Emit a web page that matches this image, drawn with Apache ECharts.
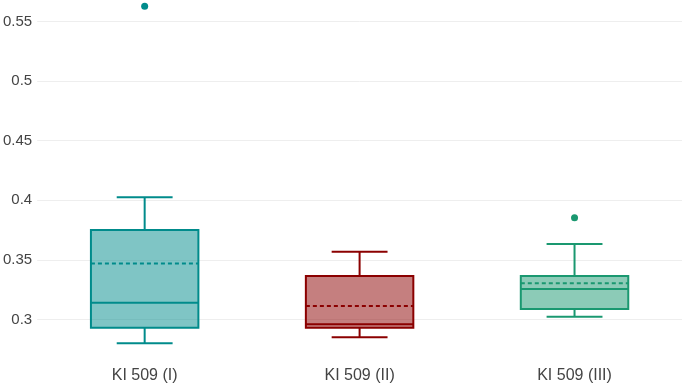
<!DOCTYPE html>
<html>
<head>
<meta charset="utf-8">
<script src="https://cdn.jsdelivr.net/npm/echarts@6/dist/echarts.min.js"></script>
<style>
  html, body { margin: 0; padding: 0; background: #fff; }
  #boxChart { width: 685px; height: 387px; }
</style>
</head>
<body>
<div id="boxChart"></div>
<script>
  // categories and box stats
  const categories = ['KI 509 (I)', 'KI 509 (II)', 'KI 509 (III)'];
  const lowerWhisker = [0.2800, 0.2851, 0.3022];
  const q1Values = [0.2930, 0.2930, 0.3087];
  const medianValues = [0.3140, 0.2960, 0.3255];
  const q3Values = [0.3750, 0.3364, 0.3364];
  const upperWhisker = [0.4026, 0.3568, 0.3633];
  const meanValues = [0.3470, 0.3112, 0.3303];
  const outlierCat = [0, 2];
  const outlierValues = [0.5628, 0.3854];
  const yTicks = [0.3, 0.35, 0.4, 0.45, 0.5, 0.55];

  const strokeColors = ['#008b8b', '#8b0000', '#1a9870'];
  const fillColors = ['rgba(0,139,139,0.5)', 'rgba(139,0,0,0.5)', 'rgba(26,152,112,0.5)'];

  let boxData = categories.map((c, i) => [i, lowerWhisker[i], q1Values[i], medianValues[i], q3Values[i], upperWhisker[i], meanValues[i]]);
  let outlierData = outlierCat.map((c, i) => ({
    value: [c, outlierValues[i]],
    itemStyle: { color: strokeColors[c], opacity: 1 }
  }));

  function renderBox(params, api) {
    let idx = api.value(0);
    let band = api.size([1, 0])[0];
    let halfBox = band * 0.25;
    let halfCap = band * 0.13;
    let x = api.coord([idx, 0])[0];
    let yLow = api.coord([idx, api.value(1)])[1];
    let yQ1 = api.coord([idx, api.value(2)])[1];
    let yMed = api.coord([idx, api.value(3)])[1];
    let yQ3 = api.coord([idx, api.value(4)])[1];
    let yHigh = api.coord([idx, api.value(5)])[1];
    let yMean = api.coord([idx, api.value(6)])[1];
    let stroke = strokeColors[idx];
    let lineStyle = { stroke: stroke, lineWidth: 2, fill: null };
    return {
      type: 'group',
      children: [
        { type: 'rect', shape: { x: x - halfBox, y: yQ3, width: halfBox * 2, height: yQ1 - yQ3 },
          style: { fill: fillColors[idx], stroke: stroke, lineWidth: 2 } },
        { type: 'line', shape: { x1: x - halfBox, y1: yMed, x2: x + halfBox, y2: yMed }, style: lineStyle },
        { type: 'line', shape: { x1: x - halfBox, y1: yMean, x2: x + halfBox, y2: yMean },
          style: { stroke: stroke, lineWidth: 2, lineDash: [4, 3] } },
        { type: 'line', shape: { x1: x, y1: yQ3, x2: x, y2: yHigh }, style: lineStyle },
        { type: 'line', shape: { x1: x, y1: yQ1, x2: x, y2: yLow }, style: lineStyle },
        { type: 'line', shape: { x1: x - halfCap, y1: yHigh, x2: x + halfCap, y2: yHigh }, style: lineStyle },
        { type: 'line', shape: { x1: x - halfCap, y1: yLow, x2: x + halfCap, y2: yLow }, style: lineStyle }
      ]
    };
  }

  let option = {
    backgroundColor: '#fff',
    animation: false,
    grid: { left: 36, right: 3, top: 0, bottom: 27 },
    xAxis: {
      type: 'category',
      data: categories,
      axisLine: { show: false },
      axisTick: { show: false },
      axisLabel: { color: '#444', fontSize: 16, fontFamily: 'Arial, Liberation Sans', margin: 8 },
      splitLine: { show: false }
    },
    yAxis: {
      type: 'value',
      min: 0.266,
      max: 0.568,
      axisLine: { show: false },
      axisTick: { show: false },
      axisLabel: {
        color: '#444', fontSize: 15, fontFamily: 'Arial, Liberation Sans', margin: 5,
        customValues: yTicks,
        formatter: function (v) { return String(+v.toFixed(2)); }
      },
      splitLine: { show: false }
    },
    series: [
      {
        type: 'line',
        z: 1,
        data: [],
        markLine: {
          silent: true,
          symbol: 'none',
          z: 1,
          label: { show: false },
          lineStyle: { color: '#eeeeee', width: 1, type: 'solid' },
          data: yTicks.map(v => ({ yAxis: v }))
        }
      },
      {
        type: 'custom',
        z: 3,
        renderItem: renderBox,
        encode: { x: 0, y: [1, 2, 3, 4, 5, 6] },
        data: boxData
      },
      {
        type: 'scatter',
        z: 4,
        symbolSize: 7,
        data: outlierData
      }
    ]
  };

  let boxChart = echarts.init(document.getElementById('boxChart'));
  boxChart.setOption(option);
</script>
</body>
</html>
